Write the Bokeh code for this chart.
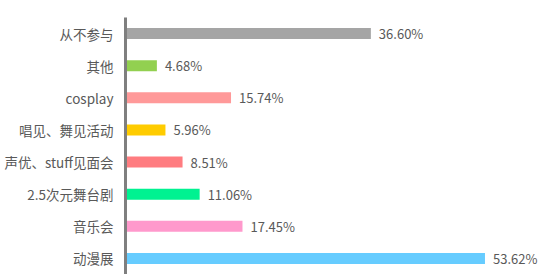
from bokeh.plotting import figure
from bokeh.models import ColumnDataSource, Range1d, FactorRange
from bokeh.core.properties import value
from bokeh.embed import file_html
from bokeh.resources import INLINE

categories = ["从不参与", "其他", "cosplay", "唱见、舞见活动", "声优、stuff见面会", "2.5次元舞台剧", "音乐会", "动漫展"]
values = [36.60, 4.68, 15.74, 5.96, 8.51, 11.06, 17.45, 53.62]
colors = ["#A5A5A5", "#92D050", "#FF9999", "#FFCC00", "#FF7C80", "#00F291", "#FF99CC", "#66CCFF"]
labels = ["36.60%", "4.68%", "15.74%", "5.96%", "8.51%", "11.06%", "17.45%", "53.62%"]

src = ColumnDataSource(dict(cat=categories, val=values, color=colors, label=labels))

p = figure(width=542, height=274, output_backend="svg", toolbar_location=None,
           y_range=FactorRange(*reversed(categories), range_padding=0),
           x_range=Range1d(0, 62.2),
           min_border_left=125, min_border_right=0, min_border_top=17, min_border_bottom=0)

p.hbar(y="cat", right="val", left=0, height=0.34, color="color", source=src, line_color=None)
p.text(x="val", y="cat", text="label", source=src, x_offset=8, text_baseline="middle",
       text_align="left", text_font=value("Noto Sans CJK SC"), text_font_size="13px",
       text_color="#595959")

p.xaxis.visible = False
p.grid.visible = False
p.outline_line_color = None
p.background_fill_color = "white"
p.border_fill_color = "white"

ya = p.yaxis[0]
ya.axis_line_color = "#7F7F7F"
ya.axis_line_width = 3
ya.major_tick_line_color = None
ya.minor_tick_line_color = None
ya.major_tick_out = 0
ya.major_tick_in = 0
ya.major_label_standoff = 12
ya.major_label_text_font = "Noto Sans CJK SC"
ya.major_label_text_font_size = "13.5px"
ya.major_label_text_color = "#595959"

open("out.html", "w").write(file_html(p, INLINE))
